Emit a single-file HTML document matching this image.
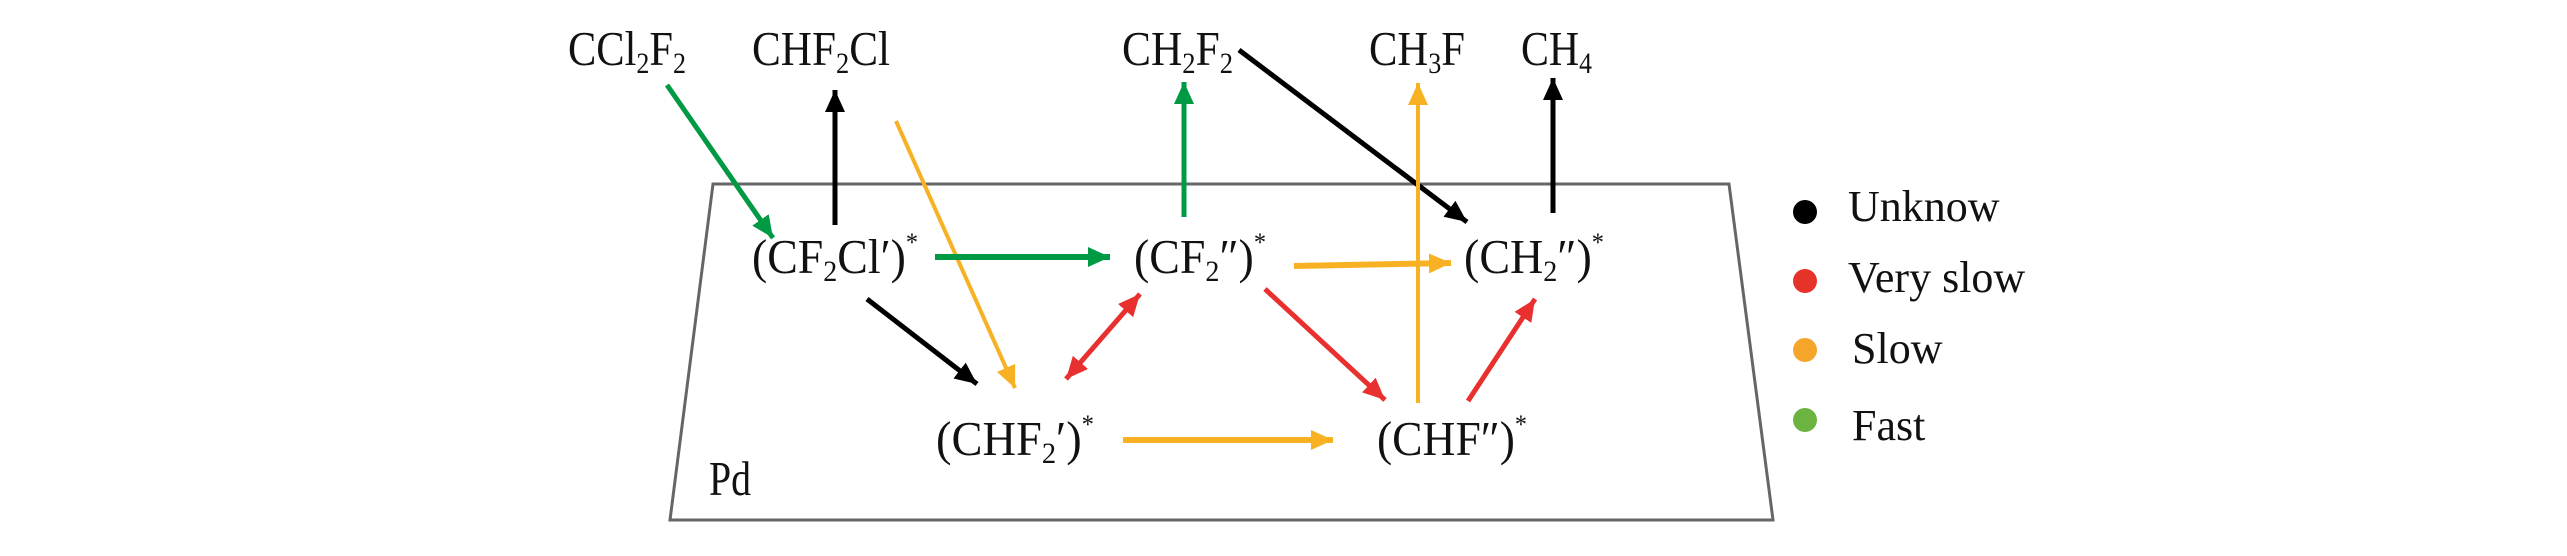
<!DOCTYPE html>
<html><head><meta charset="utf-8"><style>html,body{margin:0;padding:0;background:#fff}svg{display:block}</style></head>
<body>
<svg width="2567" height="556" viewBox="0 0 2567 556" xmlns="http://www.w3.org/2000/svg">
<defs>
<marker id="k" markerUnits="userSpaceOnUse" markerWidth="24" markerHeight="20" refX="22" refY="10" orient="auto-start-reverse"><path d="M0,0 L22,10 L0,20 Z" fill="#000"/></marker>
<marker id="g" markerUnits="userSpaceOnUse" markerWidth="24" markerHeight="20" refX="22" refY="10" orient="auto-start-reverse"><path d="M0,0 L22,10 L0,20 Z" fill="#009944"/></marker>
<marker id="o" markerUnits="userSpaceOnUse" markerWidth="24" markerHeight="20" refX="22" refY="10" orient="auto-start-reverse"><path d="M0,0 L22,10 L0,20 Z" fill="#f8b122"/></marker>
<marker id="r" markerUnits="userSpaceOnUse" markerWidth="24" markerHeight="20" refX="22" refY="10" orient="auto-start-reverse"><path d="M0,0 L22,10 L0,20 Z" fill="#e8302f"/></marker>
</defs>
<polygon points="713,184 1729,184 1773,520 670,520" fill="none" stroke="#666" stroke-width="3"/>
<g stroke-width="5" fill="none">
<line x1="667" y1="85" x2="773" y2="238" stroke="#009944" marker-end="url(#g)"/>
<line x1="835" y1="225" x2="835" y2="90" stroke="#000" marker-end="url(#k)"/>
<line x1="896" y1="121" x2="1015" y2="388" stroke="#f8b122" stroke-width="4" marker-end="url(#o)"/>
<line x1="935" y1="257" x2="1110" y2="257" stroke="#009944" stroke-width="6" marker-end="url(#g)"/>
<line x1="867" y1="299" x2="977" y2="384" stroke="#000" marker-end="url(#k)"/>
<line x1="1184" y1="217" x2="1184" y2="82" stroke="#009944" marker-end="url(#g)"/>
<line x1="1239" y1="50" x2="1467" y2="222" stroke="#000" marker-end="url(#k)"/>
<line x1="1294" y1="266" x2="1451" y2="263" stroke="#f8b122" stroke-width="6" marker-end="url(#o)"/>
<line x1="1066" y1="379" x2="1140" y2="294" stroke="#e8302f" marker-start="url(#r)" marker-end="url(#r)"/>
<line x1="1265" y1="289" x2="1385" y2="400" stroke="#e8302f" marker-end="url(#r)"/>
<line x1="1123" y1="440" x2="1333" y2="440" stroke="#f8b122" stroke-width="6" marker-end="url(#o)"/>
<line x1="1418" y1="403" x2="1418" y2="83" stroke="#f8b122" stroke-width="4" marker-end="url(#o)"/>
<line x1="1468" y1="401" x2="1535" y2="299" stroke="#e8302f" marker-end="url(#r)"/>
<line x1="1553" y1="213" x2="1553" y2="78" stroke="#000" marker-end="url(#k)"/>
</g>
<g font-family="'Liberation Serif', serif" font-size="49" fill="#111">
<text x="568" y="65" textLength="118" lengthAdjust="spacingAndGlyphs">CCl<tspan font-size="30" dy="8">2</tspan><tspan dy="-8">F</tspan><tspan font-size="30" dy="8">2</tspan></text>
<text x="752" y="65" textLength="138" lengthAdjust="spacingAndGlyphs">CHF<tspan font-size="30" dy="8">2</tspan><tspan dy="-8">Cl</tspan></text>
<text x="1122" y="65" textLength="111" lengthAdjust="spacingAndGlyphs">CH<tspan font-size="30" dy="8">2</tspan><tspan dy="-8">F</tspan><tspan font-size="30" dy="8">2</tspan></text>
<text x="1369" y="65" textLength="96" lengthAdjust="spacingAndGlyphs">CH<tspan font-size="30" dy="8">3</tspan><tspan dy="-8">F</tspan></text>
<text x="1521" y="65" textLength="71" lengthAdjust="spacingAndGlyphs">CH<tspan font-size="30" dy="8">4</tspan></text>
<text x="752" y="273" textLength="166" lengthAdjust="spacingAndGlyphs">(CF<tspan font-size="30" dy="8">2</tspan><tspan dy="-8">Cl′)</tspan><tspan font-size="26" dy="-22">*</tspan></text>
<text x="1134" y="273" textLength="132" lengthAdjust="spacingAndGlyphs">(CF<tspan font-size="30" dy="8">2</tspan><tspan dy="-8">″)</tspan><tspan font-size="26" dy="-22">*</tspan></text>
<text x="1464" y="273" textLength="140" lengthAdjust="spacingAndGlyphs">(CH<tspan font-size="30" dy="8">2</tspan><tspan dy="-8">″)</tspan><tspan font-size="26" dy="-22">*</tspan></text>
<text x="936" y="455" textLength="158" lengthAdjust="spacingAndGlyphs">(CHF<tspan font-size="30" dy="8">2</tspan><tspan dy="-8">′)</tspan><tspan font-size="26" dy="-22">*</tspan></text>
<text x="1377" y="455" textLength="150" lengthAdjust="spacingAndGlyphs">(CHF″)<tspan font-size="26" dy="-22">*</tspan></text>
<text x="709" y="495" textLength="42" lengthAdjust="spacingAndGlyphs">Pd</text>
</g>
<circle cx="1805" cy="212" r="12" fill="#000"/>
<circle cx="1805" cy="281" r="12" fill="#e6332a"/>
<circle cx="1805" cy="350" r="12" fill="#f6a52b"/>
<circle cx="1805" cy="420" r="12" fill="#6cb33f"/>
<g font-family="'Liberation Serif', serif" font-size="44" fill="#111">
<text x="1848" y="221">Unknow</text>
<text x="1848" y="292">Very slow</text>
<text x="1852" y="363">Slow</text>
<text x="1852" y="440">Fast</text>
</g>
</svg>
</body></html>
